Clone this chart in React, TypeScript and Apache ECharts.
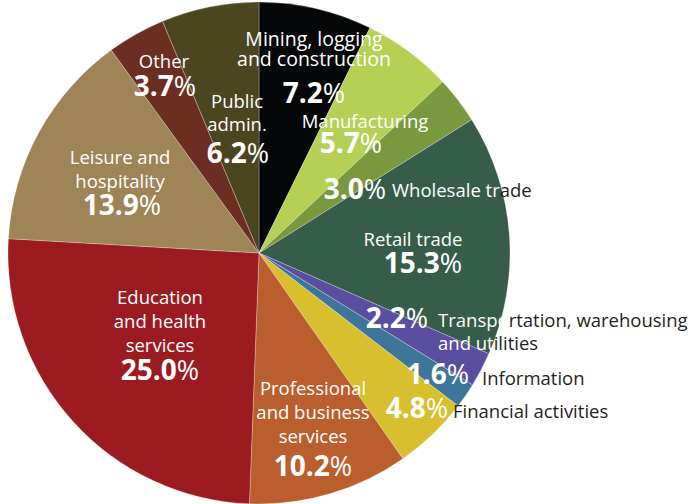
import React, { useEffect, useRef } from "react";
import * as echarts from "echarts";

const categories = [
  "Mining, logging and construction",
  "Manufacturing",
  "Wholesale trade",
  "Retail trade",
  "Transportation, warehousing and utilities",
  "Information",
  "Financial activities",
  "Professional and business services",
  "Education and health services",
  "Leisure and hospitality",
  "Other",
  "Public admin.",
];
const values = [7.2, 5.7, 3.0, 15.3, 2.2, 1.6, 4.8, 10.2, 25.0, 13.9, 3.7, 6.2];
const colors = [
  "#050708", "#b5d055", "#7a993e", "#365c4a", "#5a4ea0", "#3e7598",
  "#d7bf2d", "#bb5e2e", "#9b1b21", "#9e8456", "#6b2e20", "#4b4520",
];
// Label text lines; each line is [whitePart, blackPart]
const nameLines: [string, string][][] = [
  [["Mining, logging", ""], ["and construction", ""]],
  [["Manufacturing", ""]],
  [["Wholesale tr", "ade"]],
  [["Retail trade", ""]],
  [["Transpo", "rtation, warehousing"], ["and ut", "ilities"]],
  [["", "Information"]],
  [["", "Financial activities"]],
  [["Professional", ""], ["and business", ""], ["services", ""]],
  [["Education", ""], ["and health", ""], ["services", ""]],
  [["Leisure and", ""], ["hospitality", ""]],
  [["Other", ""]],
  [["Public", ""], ["admin.", ""]],
];

// layout: name anchor [x, y, align, lineHeight, fontSize], percent anchor [x, y, align]
const nameAnchors: [number, number, string, number, number][] = [
  [314, 48, "center", 20, 19.5],
  [365, 120, "center", 23, 18.5],
  [392, 189, "left", 23, 18.5],
  [413, 238, "center", 23, 18.5],
  [438, 331, "left", 23, 18.5],
  [482, 377, "left", 23, 18.5],
  [453, 410, "left", 23, 18.5],
  [313, 411, "center", 24, 18.5],
  [160, 320, "center", 24, 18.5],
  [120, 168, "center", 24, 18.5],
  [164, 60, "center", 23, 18.5],
  [237, 112, "center", 23, 18.5],
];
const pctAnchors: [number, number, string][] = [
  [314, 92, "center"],
  [351, 142, "center"],
  [386, 188, "right"],
  [423, 262, "center"],
  [428, 317, "right"],
  [469, 373, "right"],
  [448, 407, "right"],
  [313, 465, "center"],
  [160, 369, "center"],
  [122, 204, "center"],
  [165, 85, "center"],
  [238, 152, "center"],
];

const FONT = "'Open Sans', 'Noto Sans', sans-serif";
const PCT_SIZE = 28;

export default function App() {
  const ref = useRef<HTMLDivElement>(null);
  useEffect(() => {
    if (!ref.current) return;
    const chart = echarts.init(ref.current, undefined, { renderer: "svg" });
    const texts: any[] = [];
    categories.forEach((_, i) => {
      const [nx, ny, na, lh, fs] = nameAnchors[i];
      const lines = nameLines[i]
        .map(([w, k]) => (w ? `{w|${w}}` : "") + (k ? `{k|${k}}` : ""))
        .join("\n");
      texts.push({
        type: "text",
        x: nx,
        y: ny,
        z: 10,
        style: {
          text: lines,
          align: na,
          verticalAlign: "middle",
          rich: {
            w: { fill: "#ffffff", fontFamily: FONT, fontSize: fs, lineHeight: lh },
            k: { fill: "#231f20", fontFamily: FONT, fontSize: fs, lineHeight: lh },
          },
        },
      });
      const [px, py, pa] = pctAnchors[i];
      texts.push({
        type: "text",
        x: px,
        y: py,
        z: 10,
        style: {
          text: `{b|${values[i].toFixed(1)}}{s|%}`,
          align: pa,
          verticalAlign: "middle",
          rich: {
            b: { fill: "#ffffff", fontFamily: FONT, fontSize: PCT_SIZE, fontWeight: "bold" },
            s: { fill: "#ffffff", fontFamily: FONT, fontSize: PCT_SIZE - 1, fontWeight: "normal" },
          },
        },
      });
    });
    chart.setOption({
      animation: false,
      backgroundColor: "#ffffff",
      graphic: texts,
      series: [
        {
          type: "pie",
          center: [259, 253],
          radius: 251,
          startAngle: 90,
          clockwise: true,
          label: { show: false },
          labelLine: { show: false },
          emphasis: { disabled: true },
          itemStyle: { borderColor: "rgba(255,255,255,0.45)", borderWidth: 0.6 },
          data: categories.map((c, i) => ({
            name: c,
            value: values[i],
            itemStyle: { color: colors[i] },
          })),
        },
      ],
    });
    return () => chart.dispose();
  }, []);
  return (
    <div
      ref={ref}
      style={{ position: "fixed", left: 0, top: 0, width: 695, height: 504 }}
    />
  );
}
